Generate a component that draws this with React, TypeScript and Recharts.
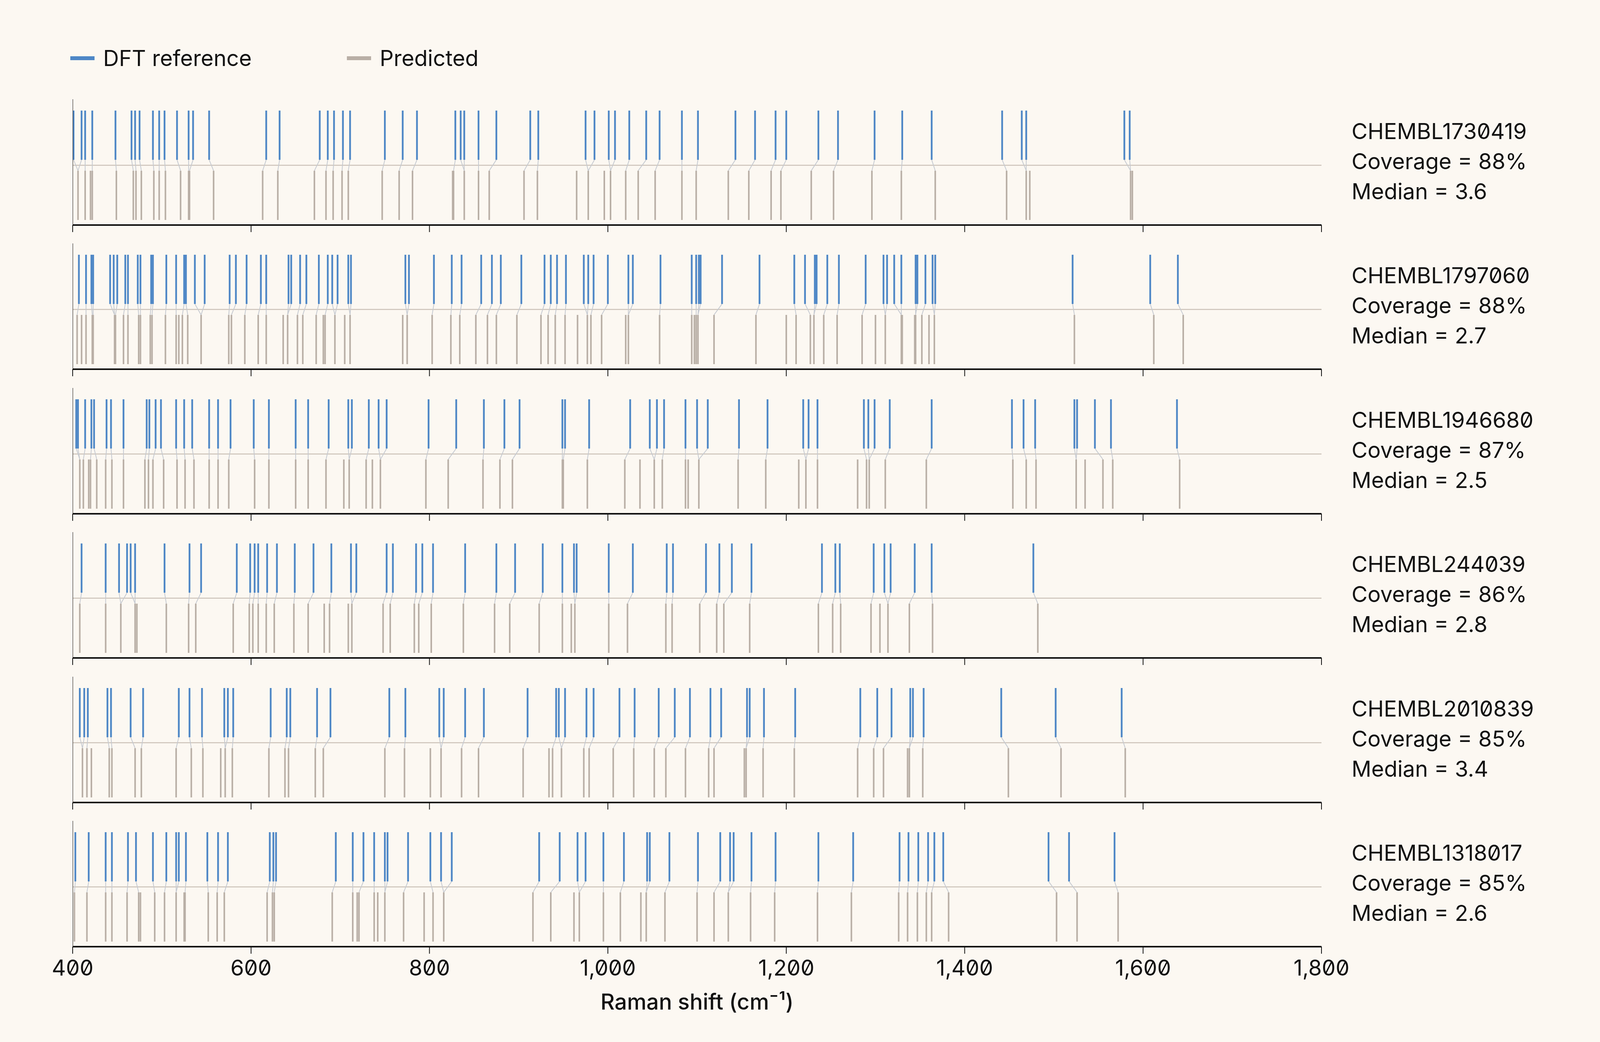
import type { FC } from "react";
import { ComposedChart, XAxis, YAxis, Line } from "recharts";

// Raman peak positions (cm^-1): DFT reference vs model prediction, per molecule
const MOLECULES = [
  "CHEMBL1730419",
  "CHEMBL1797060",
  "CHEMBL1946680",
  "CHEMBL244039",
  "CHEMBL2010839",
  "CHEMBL1318017",
];
const COVERAGE = [88, 88, 87, 86, 85, 85];
const MEDIAN = [3.6, 2.7, 2.5, 2.8, 3.4, 2.6];
const TICKS = [400, 600, 800, 1000, 1200, 1400, 1600, 1800];

const REF_1 = [401, 410, 414, 422, 448, 466, 470, 475, 490, 497, 503, 517, 530, 535, 553, 617, 632, 677, 686, 693, 703, 711, 750, 770, 786, 829, 835, 839, 855, 875, 913, 922, 975, 985, 1001, 1008, 1024, 1043, 1058, 1083, 1101, 1143, 1165, 1188, 1200, 1236, 1258, 1299, 1330, 1363, 1442, 1464, 1469, 1579, 1585];
const PRED_1 = [406, 414, 420, 422, 449, 468, 471, 477, 491, 497, 504, 521, 530, 531, 558, 613, 630, 671, 684, 692, 702, 709, 747, 766, 781, 826, 827, 839, 855, 867, 906, 921, 965, 978, 996, 1003, 1020, 1034, 1053, 1083, 1099, 1135, 1158, 1183, 1194, 1228, 1253, 1296, 1329, 1367, 1447, 1469, 1473, 1586, 1588];

const REF_2 = [407, 415, 421, 423, 442, 446, 450, 459, 462, 473, 476, 488, 490, 505, 516, 525, 527, 537, 548, 576, 583, 595, 611, 617, 642, 645, 655, 662, 676, 686, 691, 697, 709, 712, 773, 777, 805, 825, 836, 858, 870, 880, 903, 929, 936, 943, 953, 973, 978, 984, 1000, 1023, 1028, 1059, 1094, 1099, 1102, 1104, 1128, 1170, 1209, 1221, 1232, 1234, 1246, 1259, 1289, 1309, 1313, 1321, 1329, 1345, 1347, 1356, 1364, 1367, 1521, 1608, 1639];
const PRED_2 = [405, 410, 415, 422, 423, 447, 448, 457, 462, 474, 476, 487, 489, 504, 516, 519, 523, 529, 544, 575, 578, 593, 608, 617, 636, 641, 652, 658, 673, 681, 683, 694, 705, 711, 770, 775, 803, 824, 834, 852, 865, 875, 898, 925, 933, 941, 952, 966, 977, 981, 993, 1020, 1023, 1058, 1094, 1097, 1099, 1101, 1119, 1166, 1200, 1211, 1227, 1231, 1242, 1257, 1285, 1300, 1311, 1329, 1330, 1344, 1345, 1352, 1360, 1366, 1523, 1612, 1645];

const REF_3 = [404, 406, 414, 421, 424, 438, 443, 457, 483, 486, 493, 499, 516, 525, 534, 553, 563, 577, 603, 620, 650, 664, 687, 709, 713, 732, 743, 752, 799, 830, 861, 884, 901, 949, 952, 979, 1025, 1047, 1055, 1063, 1087, 1100, 1112, 1147, 1179, 1219, 1225, 1235, 1287, 1292, 1299, 1316, 1363, 1453, 1466, 1479, 1523, 1526, 1546, 1564, 1638];
const PRED_3 = [408, 412, 418, 420, 427, 437, 444, 457, 481, 485, 490, 502, 517, 526, 536, 553, 563, 575, 604, 620, 650, 664, 684, 704, 710, 729, 736, 745, 796, 821, 860, 879, 893, 949, 950, 977, 1019, 1036, 1052, 1061, 1087, 1090, 1102, 1146, 1177, 1214, 1222, 1235, 1280, 1290, 1293, 1311, 1357, 1454, 1469, 1480, 1525, 1535, 1555, 1566, 1641];

const REF_4 = [410, 437, 452, 461, 465, 470, 503, 531, 544, 584, 599, 604, 608, 618, 629, 649, 670, 690, 712, 718, 752, 759, 785, 792, 804, 840, 875, 896, 927, 949, 962, 965, 1001, 1028, 1066, 1073, 1110, 1125, 1139, 1161, 1240, 1255, 1260, 1298, 1310, 1317, 1344, 1363, 1477];
const PRED_4 = [408, 437, 454, 470, 472, 505, 530, 538, 580, 598, 602, 608, 617, 626, 648, 664, 682, 688, 709, 713, 748, 756, 783, 788, 802, 838, 873, 890, 923, 949, 959, 963, 1001, 1022, 1065, 1072, 1103, 1122, 1130, 1159, 1236, 1252, 1261, 1295, 1305, 1314, 1338, 1364, 1482];

const REF_5 = [408, 413, 417, 439, 443, 465, 479, 519, 531, 545, 570, 574, 580, 622, 640, 644, 674, 689, 755, 773, 811, 816, 840, 861, 910, 942, 945, 952, 976, 984, 1013, 1030, 1057, 1075, 1092, 1115, 1127, 1156, 1159, 1175, 1210, 1283, 1302, 1318, 1339, 1342, 1354, 1441, 1502, 1576];
const PRED_5 = [411, 416, 421, 441, 444, 470, 477, 516, 533, 546, 566, 571, 579, 620, 638, 642, 672, 681, 750, 772, 801, 813, 836, 855, 905, 934, 938, 948, 973, 979, 1006, 1029, 1052, 1065, 1087, 1113, 1119, 1153, 1155, 1174, 1209, 1280, 1298, 1309, 1336, 1338, 1353, 1449, 1508, 1580];

const REF_6 = [403, 418, 437, 444, 462, 471, 490, 505, 516, 519, 527, 551, 563, 574, 621, 625, 628, 695, 714, 726, 738, 750, 753, 776, 801, 813, 825, 923, 946, 966, 975, 995, 1018, 1044, 1047, 1069, 1101, 1126, 1137, 1141, 1161, 1188, 1236, 1275, 1327, 1337, 1348, 1359, 1366, 1376, 1494, 1517, 1568];
const PRED_6 = [402, 416, 437, 444, 461, 474, 476, 492, 503, 516, 525, 526, 552, 562, 570, 618, 624, 626, 691, 714, 719, 721, 738, 742, 750, 771, 794, 804, 816, 916, 936, 962, 968, 995, 1014, 1037, 1043, 1064, 1100, 1119, 1135, 1160, 1187, 1235, 1273, 1326, 1336, 1347, 1357, 1363, 1382, 1503, 1526, 1572];

const REFS = [REF_1, REF_2, REF_3, REF_4, REF_5, REF_6];
const PREDS = [PRED_1, PRED_2, PRED_3, PRED_4, PRED_5, PRED_6];

const BLUE = "#4E87C6";
const GRAY = "#B9AFA6";
const LINK = "#C6CAD1";
const MID = "#CBC1B8";
const INK = "#111111";
const BG = "#FCF8F2";

const CHART_W = 3500;
const PLOT_H = 322;
const TOP0 = 250;
const STEP = 369.4;
const FONT = 56;

// vertical layout inside each panel (y domain 0..1)
const Y_MID = 0.475;
const Y_REF: [number, number] = [0.519, 0.91];
const Y_PRED: [number, number] = [0.04, 0.432];

type Pt = { x: number; y: number | null };

const nearest = (v: number, list: number[]) =>
  list.reduce((best, p) => (Math.abs(p - v) < Math.abs(best - v) ? p : best), list[0]);

// vertical sticks, separated by null points so the line breaks between them
const sticks = (xs: number[], y0: number, y1: number): Pt[] =>
  xs.flatMap((x) => [
    { x, y: y0 },
    { x, y: y1 },
    { x, y: null },
  ]);

const links = (ref: number[], pred: number[]): Pt[] =>
  ref.flatMap((r) => {
    const p = nearest(r, pred);
    return [
      { x: r, y: Y_REF[0] },
      { x: p, y: Y_PRED[1] },
      { x: p, y: null },
    ];
  });

const midline: Pt[] = [
  { x: 400, y: Y_MID },
  { x: 1800, y: Y_MID },
];

const leftEdge: Pt[] = [
  { x: 400, y: 0 },
  { x: 400, y: 1 },
];

const Panel: FC<{ index: number }> = ({ index }) => {
  const ref = REFS[index];
  const pred = PREDS[index];
  const last = index === MOLECULES.length - 1;
  const axisH = last ? 100 : 30;

  return (
    <div style={{ position: "absolute", left: 0, top: TOP0 + index * STEP }}>
      <ComposedChart
        width={CHART_W}
        height={4 + PLOT_H + axisH}
        margin={{ top: 4, right: CHART_W - 3383, bottom: 0, left: 186 }}
      >
        <XAxis
          type="number"
          dataKey="x"
          domain={[400, 1800]}
          ticks={TICKS}
          interval={0}
          allowDataOverflow
          height={axisH}
          tickSize={18}
          tickMargin={16}
          axisLine={{ stroke: INK, strokeWidth: 4 }}
          tickLine={{ stroke: INK, strokeWidth: 2 }}
          tick={{ fill: INK, fontSize: FONT }}
          tickFormatter={(v: number) => (last ? v.toLocaleString("en-US") : "")}
        />
        <YAxis
          type="number"
          domain={[0, 1]}
          allowDataOverflow
          width={0}
          tick={false}
          tickLine={false}
          axisLine={{ stroke: INK, strokeWidth: 2 }}
        />
        <Line
          data={midline}
          dataKey="y"
          type="linear"
          stroke={MID}
          strokeWidth={2.5}
          dot={false}
          activeDot={false}
          isAnimationActive={false}
        />
        <Line
          data={links(ref, pred)}
          dataKey="y"
          type="linear"
          stroke={LINK}
          strokeWidth={2}
          dot={false}
          activeDot={false}
          isAnimationActive={false}
        />
        <Line
          data={sticks(pred, Y_PRED[0], Y_PRED[1])}
          dataKey="y"
          type="linear"
          stroke={GRAY}
          strokeWidth={4}
          dot={false}
          activeDot={false}
          isAnimationActive={false}
        />
        <Line
          data={sticks(ref, Y_REF[0], Y_REF[1])}
          dataKey="y"
          type="linear"
          stroke={BLUE}
          strokeWidth={4.5}
          dot={false}
          activeDot={false}
          isAnimationActive={false}
        />
        <Line
          data={leftEdge}
          dataKey="y"
          type="linear"
          stroke={INK}
          strokeWidth={2}
          dot={false}
          activeDot={false}
          isAnimationActive={false}
        />
      </ComposedChart>
      <div
        style={{
          position: "absolute",
          left: 3460,
          top: 48,
          fontSize: FONT,
          lineHeight: "77px",
          color: INK,
          whiteSpace: "nowrap",
        }}
      >
        <div>{MOLECULES[index]}</div>
        <div>Coverage = {COVERAGE[index]}%</div>
        <div>Median = {MEDIAN[index].toFixed(1)}</div>
      </div>
    </div>
  );
};

const LegendItem: FC<{ color: string; label: string; left: number }> = ({ color, label, left }) => (
  <div
    style={{
      position: "absolute",
      left,
      top: 121,
      height: FONT,
      display: "flex",
      alignItems: "center",
      fontSize: FONT,
      lineHeight: `${FONT}px`,
      color: INK,
      whiteSpace: "nowrap",
    }}
  >
    <span style={{ width: 62, height: 10, backgroundColor: color, marginRight: 22 }} />
    <span>{label}</span>
  </div>
);

export default function App() {
  return (
    <div
      style={{
        position: "absolute",
        left: 0,
        top: 0,
        width: 4167,
        height: 2667,
        overflow: "hidden",
        background: BG,
        fontFamily: "Inter, 'Noto Sans', sans-serif",
        fontFeatureSettings: '"zero" 1',
      }}
    >
      <LegendItem color={BLUE} label="DFT reference" left={180} />
      <LegendItem color={GRAY} label="Predicted" left={888} />
      {MOLECULES.map((m, i) => (
        <Panel key={m} index={i} />
      ))}
      <div
        style={{
          position: "absolute",
          left: 186,
          width: 3197,
          top: 2536,
          textAlign: "center",
          fontSize: FONT,
          lineHeight: `${FONT}px`,
          fontWeight: 500,
          color: INK,
        }}
      >
        Raman shift (cm⁻¹)
      </div>
    </div>
  );
}
